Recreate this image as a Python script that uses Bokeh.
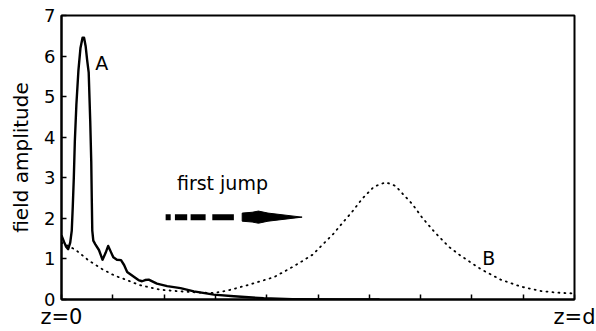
from bokeh.plotting import figure
from bokeh.models import Range1d, FixedTicker, CustomJSTickFormatter, Label
from bokeh.embed import file_html
from bokeh.resources import INLINE

# Curve A (solid): position z/d and field amplitude
a_z = [0.000, 0.005, 0.009, 0.013, 0.017, 0.020, 0.022, 0.024, 0.026, 0.029,
       0.033, 0.037, 0.041, 0.044, 0.047, 0.050, 0.053, 0.056, 0.058, 0.059,
       0.060, 0.062, 0.066, 0.073, 0.080, 0.086, 0.091, 0.096, 0.101, 0.108,
       0.116, 0.122, 0.128, 0.141, 0.150, 0.157, 0.163, 0.170, 0.178, 0.186,
       0.206, 0.232, 0.258, 0.297, 0.336, 0.394, 0.450, 0.550, 0.620]
a_amp = [1.58, 1.42, 1.30, 1.24, 1.40, 1.70, 2.30, 3.00, 3.90, 4.80,
         5.65, 6.20, 6.45, 6.45, 6.25, 5.90, 5.60, 4.40, 3.40, 2.50,
         1.70, 1.45, 1.36, 1.22, 0.98, 1.15, 1.32, 1.18, 1.04, 0.98,
         0.97, 0.85, 0.68, 0.56, 0.48, 0.45, 0.48, 0.49, 0.44, 0.39,
         0.33, 0.28, 0.20, 0.12, 0.08, 0.03, 0.01, 0.0, 0.0]

# Curve B (dotted)
b_z = [0.000, 0.027, 0.053, 0.079, 0.105, 0.121, 0.141, 0.154, 0.193, 0.232,
       0.271, 0.297, 0.323, 0.362, 0.414, 0.453, 0.489, 0.530, 0.550, 0.567,
       0.586, 0.609, 0.632, 0.651, 0.667, 0.684, 0.703, 0.726, 0.755, 0.778,
       0.817, 0.856, 0.895, 0.934, 0.965, 0.998]
b_amp = [1.40, 1.23, 0.96, 0.75, 0.58, 0.51, 0.41, 0.35, 0.24, 0.20,
         0.17, 0.16, 0.22, 0.35, 0.55, 0.82, 1.10, 1.62, 1.92, 2.17,
         2.48, 2.78, 2.89, 2.80, 2.58, 2.35, 2.02, 1.68, 1.30, 1.08,
         0.75, 0.49, 0.32, 0.21, 0.17, 0.15]

y_ticks = [0, 1, 2, 3, 4, 5, 6, 7]
x_ticks = [0.0, 0.1, 0.2, 0.3, 0.4, 0.5, 0.6, 0.7, 0.8, 0.9, 1.0]
x_tick_labels = {"0": "z=0", "1": "z=d"}

# annotation: "first jump" arrow
arrow_y = 2.03
arrow_x0 = 0.203
arrow_x1 = 0.469

FONT = "DejaVu Sans"

p = figure(width=596, height=331, output_backend="svg", toolbar_location=None,
           x_range=Range1d(0, 1), y_range=Range1d(0, 7),
           min_border_left=61, min_border_right=22, min_border_top=15,
           min_border_bottom=31)
p.background_fill_color = "white"
p.border_fill_color = "white"
p.outline_line_color = "black"
p.outline_line_width = 2
p.grid.visible = False

# axes
p.yaxis.ticker = FixedTicker(ticks=y_ticks)
p.yaxis.axis_label = "field amplitude"
p.yaxis.axis_label_text_font = FONT
p.yaxis.axis_label_text_font_style = "normal"
p.yaxis.axis_label_text_font_size = "20px"
p.yaxis.axis_label_text_color = "black"
p.yaxis.axis_label_standoff = 8
p.xaxis.ticker = FixedTicker(ticks=x_ticks)
p.xaxis.formatter = CustomJSTickFormatter(
    args=dict(lab=x_tick_labels),
    code="const k = String(Math.round(tick*10)/10); return (k in lab) ? lab[k] : '';")
for ax in (p.xaxis, p.yaxis):
    ax.axis_line_width = 2
    ax.axis_line_color = "black"
    ax.major_tick_in = 5
    ax.major_tick_out = 0
    ax.major_tick_line_width = 1.5
    ax.minor_tick_line_color = None
    ax.major_label_text_font = FONT
    ax.major_label_text_color = "black"
p.yaxis.major_label_text_font_size = "18px"
p.yaxis.major_label_standoff = 6
p.xaxis.major_label_text_font_size = "21px"
p.xaxis.major_label_standoff = 5

# curves
p.line(b_z, b_amp, line_color="black", line_width=1.8, line_dash="1 5",
       line_cap="round")
p.line(a_z, a_amp, line_color="black", line_width=2.4, line_join="round")

# labels
p.add_layout(Label(x=0.066, y=5.82, text="A", text_font=FONT,
                   text_font_size="19px", text_color="black",
                   text_baseline="alphabetic"))
p.add_layout(Label(x=0.82, y=1.03, text="B", text_font=FONT,
                   text_font_size="19px", text_color="black",
                   text_baseline="alphabetic"))
p.add_layout(Label(x=0.225, y=2.87, text="first jump",
                   text_font=FONT, text_font_size="19px", text_color="black",
                   text_align="left", text_baseline="middle"))

# dashed arrow
L = arrow_x1 - arrow_x0
segs = [(0.0, 0.037), (0.068, 0.158), (0.183, 0.293), (0.342, 0.5)]
p.segment(x0=[arrow_x0 + s * L for s, e in segs],
          y0=[arrow_y] * len(segs),
          x1=[arrow_x0 + e * L for s, e in segs],
          y1=[arrow_y] * len(segs),
          line_color="black", line_width=6, line_cap="butt")
hf = [0.561, 0.634, 0.68, 0.75, 1.0, 0.75, 0.68, 0.634, 0.561]
hd = [0.10, 0.12, 0.15, 0.10, 0.0, -0.10, -0.15, -0.12, -0.10]
p.patch([arrow_x0 + f * L for f in hf], [arrow_y + d for d in hd],
        fill_color="black", line_color="black", line_width=1)

open("out.html", "w").write(file_html(p, INLINE))
